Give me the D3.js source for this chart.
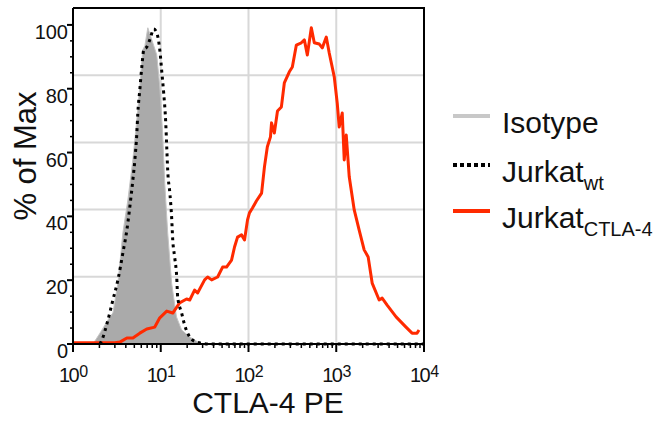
<!DOCTYPE html>
<html>
<head>
<meta charset="utf-8">
<script src="https://cdn.jsdelivr.net/npm/d3@7"></script>
<style>
  body { margin: 0; background: #fff; }
  text { font-family: 'Liberation Sans', Arial, sans-serif; fill: #111; }
</style>
</head>
<body>
<script>
let width = 667
let height = 423

// isotype control (filled grey)
let isoX = [1.69, 2.03, 2.63, 2.85, 3.25, 3.70, 4.22, 4.81, 5.48, 6.24, 6.6, 7.12, 8.11, 9.0, 9.75, 10.5, 11.1, 12.0, 13.3, 15.1, 17.3, 21.4, 27.7]
let isoY = [0, 3.4, 8.5, 9.7, 19.1, 34.8, 45.1, 57.7, 73.4, 92.2, 93.5, 99.1, 94.4, 90.6, 80.6, 66.1, 50.5, 34.8, 19.1, 8.5, 4.4, 2.2, 0.3]

// Jurkat wt (dotted)
let wtX = [2.03, 2.14, 2.50, 2.85, 3.25, 3.70, 4.11, 4.44, 4.81, 5.07, 5.34, 5.48, 5.77, 6.08, 6.41, 6.93, 7.50, 8.32, 9.01, 9.75, 10.3, 10.8, 11.4, 11.7, 12.0, 12.7, 13.3, 13.7, 14.4, 15.2, 15.6, 17.3, 18.7, 21.4, 25.7, 36, 10000]
let wtY = [0, 1.3, 7.5, 13.8, 20.1, 28.5, 35.7, 42.9, 51.4, 57.7, 66.1, 72.4, 79.6, 86.8, 92.2, 93.1, 95.3, 98.7, 97.5, 92.2, 85.0, 78.7, 69.3, 61.8, 54.5, 47.3, 39.8, 32.6, 27.3, 21.0, 14.7, 9.7, 6.0, 2.2, 0.6, 0, 0]

// Jurkat CTLA-4 (red)
let ctlaX = [1, 3.0, 3.42, 4.11, 4.81, 5.77, 6.93, 8.55, 9.75, 11.7, 13.7, 16.4, 19.7, 21.4, 24.3, 26.3, 31.6, 34.2, 38.0, 44.5, 50.7, 56.2, 64.1, 69.3, 75.0, 83.3, 90.1, 97.5, 102.6, 111, 123, 141, 152, 164, 178, 183, 197, 214, 237, 256, 292, 316, 351, 400, 433, 468, 520, 562, 641, 693, 770, 832, 949, 1026, 1081, 1170, 1233, 1300, 1406, 1603, 1825, 2080, 2310, 2566, 3083, 3336, 3802, 4808, 6237, 7311, 8325, 8776]
let ctlaY = [0.4, 0.4, 0.6, 1.9, 1.9, 3.4, 4.7, 5.3, 8.2, 10.3, 9.7, 12.9, 14.1, 13.8, 16.9, 16.0, 20.1, 21.0, 20.1, 21.0, 24.1, 24.1, 26.3, 30.4, 33.5, 34.2, 32.6, 38.9, 41.1, 42.6, 44.8, 47.3, 55.5, 61.8, 64.9, 69.3, 66.1, 73.0, 74.3, 81.8, 85.3, 86.8, 93.7, 94.4, 95.3, 90.6, 99.1, 94.4, 94.0, 92.8, 96.2, 91.2, 83.7, 75.5, 68.0, 72.4, 57.7, 65.5, 52.4, 42.0, 35.7, 29.5, 27.3, 19.1, 13.8, 14.4, 12.2, 8.5, 5.3, 3.4, 3.4, 4.4]

let xDecades = [1, 10, 100, 1000, 10000]
let xExponents = ['0', '1', '2', '3', '4']
let yTicks = [0, 20, 40, 60, 80, 100]
let yMax = 105.3

let legendNames = ['Isotype', 'Jurkat', 'Jurkat']
let legendSubs = ['', 'wt', 'CTLA-4']

let grey = '#aaaaaa'
let red = '#ff2a00'

let plot = { left: 73, right: 424, top: 8, bottom: 344 }

let x = d3.scaleLog().domain([1, 10000]).range([plot.left, plot.right])
let y = d3.scaleLinear().domain([0, yMax]).range([plot.bottom, plot.top])

let svg = d3.select('body').append('svg')
  .attr('width', width)
  .attr('height', height)

// grid
let gridY = d3.range(1, 5).map(i => yMax * i / 5)
svg.selectAll('.hgrid').data(gridY).enter().append('line')
  .attr('x1', plot.left).attr('x2', plot.right)
  .attr('y1', d => y(d)).attr('y2', d => y(d))
  .style('stroke', '#d8d8d8').style('stroke-width', 2)

svg.selectAll('.vgrid').data(xDecades.slice(1, -1)).enter().append('line')
  .attr('x1', d => x(d)).attr('x2', d => x(d))
  .attr('y1', plot.top).attr('y2', plot.bottom)
  .style('stroke', '#d8d8d8').style('stroke-width', 2)

// isotype area
let isoData = isoX.map((v, i) => [v, isoY[i]])
svg.append('path')
  .attr('d', d3.area()
    .x(d => x(d[0]))
    .y0(y(0))
    .y1(d => y(d[1]))(isoData))
  .style('fill', grey)
  .style('stroke', '#c4c4c4')
  .style('stroke-width', 1)

// red line
let ctlaData = ctlaX.map((v, i) => [v, ctlaY[i]])
svg.append('path')
  .attr('d', d3.line().x(d => x(d[0])).y(d => y(d[1]))(ctlaData))
  .style('fill', 'none')
  .style('stroke', red)
  .style('stroke-width', 3)
  .style('stroke-linejoin', 'round')

// dotted wt line
let wtData = wtX.map((v, i) => [v, wtY[i]])
svg.append('path')
  .attr('d', d3.line().x(d => x(d[0])).y(d => y(d[1])).curve(d3.curveMonotoneX)(wtData))
  .style('fill', 'none')
  .style('stroke', '#000')
  .style('stroke-width', 3)
  .style('stroke-dasharray', '3,4')

// frame
svg.append('path')
  .attr('d', 'M' + plot.left + ',' + plot.top + 'H' + plot.right + 'V' + plot.bottom)
  .style('fill', 'none').style('stroke', '#000').style('stroke-width', 2)

// y axis
let yAxis = svg.append('g')
yAxis.append('line')
  .attr('x1', plot.left).attr('x2', plot.left)
  .attr('y1', plot.top).attr('y2', plot.bottom + 1)
  .style('stroke', '#000').style('stroke-width', 2)

yAxis.selectAll('.ymin').data(d3.range(0, 101, 5)).enter().append('line')
  .attr('x1', d => d % 20 === 0 ? plot.left - 6 : plot.left - 3)
  .attr('x2', plot.left)
  .attr('y1', d => y(d)).attr('y2', d => y(d))
  .style('stroke', '#000').style('stroke-width', d => d % 20 === 0 ? 2 : 1.5)

yAxis.selectAll('.ylab').data(yTicks).enter().append('text')
  .attr('x', plot.left - 5)
  .attr('y', d => y(d) + 14)
  .attr('text-anchor', 'end')
  .style('font-size', '20px')
  .text(d => d)

// x axis
let xAxis = svg.append('g')
xAxis.append('line')
  .attr('x1', plot.left - 1).attr('x2', plot.right + 1)
  .attr('y1', plot.bottom).attr('y2', plot.bottom)
  .style('stroke', '#000').style('stroke-width', 2)

let minor = []
xDecades.slice(0, -1).forEach(d => {
  for (let k = 2; k < 10; k++) minor.push(d * k)
})
xAxis.selectAll('.xmin').data(minor).enter().append('line')
  .attr('x1', d => x(d)).attr('x2', d => x(d))
  .attr('y1', plot.bottom).attr('y2', plot.bottom + 4)
  .style('stroke', '#000').style('stroke-width', 1.5)

xAxis.selectAll('.xmaj').data(xDecades).enter().append('line')
  .attr('x1', d => x(d)).attr('x2', d => x(d))
  .attr('y1', plot.bottom).attr('y2', plot.bottom + 8)
  .style('stroke', '#000').style('stroke-width', 2)

// "10" with exponent as one text element
let xl = xAxis.selectAll('.xlab').data(xDecades).enter().append('text')
  .attr('x', d => x(d) - 14)
  .attr('y', 382)
  .style('font-size', '20px')
xl.append('tspan')
  .style('letter-spacing', '-1.5px')
  .text('10')
xl.append('tspan')
  .attr('dx', 1)
  .attr('dy', -5)
  .style('font-size', '16px')
  .text((d, i) => xExponents[i])

// axis titles
svg.append('text')
  .attr('x', 268)
  .attr('y', 413)
  .attr('text-anchor', 'middle')
  .style('font-size', '30px')
  .text('CTLA-4 PE')

svg.append('text')
  .attr('transform', 'translate(36,156) rotate(-90)')
  .attr('text-anchor', 'middle')
  .style('font-size', '31px')
  .text('% of Max')

// legend
let legendY = [133, 182, 228]
let legendStyles = [
  { stroke: '#c8c8c8', dash: null },
  { stroke: '#000', dash: '4,3' },
  { stroke: red, dash: null }
]
let legend = svg.append('g')
legendNames.forEach((name, i) => {
  legend.append('line')
    .attr('x1', 453).attr('x2', 490)
    .attr('y1', legendY[i] - 17).attr('y2', legendY[i] - 17)
    .style('stroke', legendStyles[i].stroke)
    .style('stroke-width', 4)
    .style('stroke-dasharray', legendStyles[i].dash)
  let t = legend.append('text')
    .attr('x', 502)
    .attr('y', legendY[i])
    .style('font-size', '30px')
    .text(name)
  if (legendSubs[i]) {
    t.append('tspan')
      .attr('dy', 8)
      .style('font-size', '20px')
      .text(legendSubs[i])
  }
})
</script>
</body>
</html>
